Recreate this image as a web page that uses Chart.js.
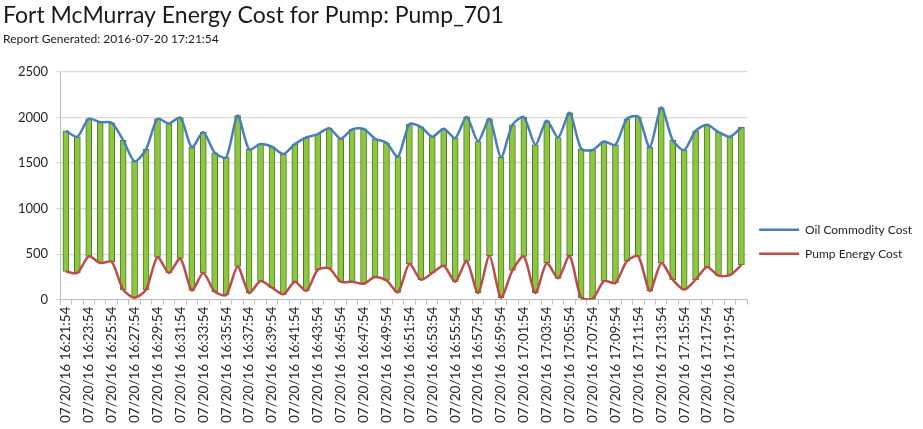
<!DOCTYPE html>
<html>
<head>
<meta charset="utf-8">
<script src="https://cdn.jsdelivr.net/npm/chart.js@4.4.1/dist/chart.umd.min.js"></script>
<style>
html,body{margin:0;padding:0;background:#fff;}
#wrap{width:923px;height:429px;position:relative;}
</style>
</head>
<body>
<div id="wrap"><canvas id="c" width="923" height="429"></canvas></div>
<script>
const categories = [
"07/20/16 16:21:54","07/20/16 16:22:54","07/20/16 16:23:54","07/20/16 16:24:54","07/20/16 16:25:54",
"07/20/16 16:26:54","07/20/16 16:27:54","07/20/16 16:28:54","07/20/16 16:29:54","07/20/16 16:30:54",
"07/20/16 16:31:54","07/20/16 16:32:54","07/20/16 16:33:54","07/20/16 16:34:54","07/20/16 16:35:54",
"07/20/16 16:36:54","07/20/16 16:37:54","07/20/16 16:38:54","07/20/16 16:39:54","07/20/16 16:40:54",
"07/20/16 16:41:54","07/20/16 16:42:54","07/20/16 16:43:54","07/20/16 16:44:54","07/20/16 16:45:54",
"07/20/16 16:46:54","07/20/16 16:47:54","07/20/16 16:48:54","07/20/16 16:49:54","07/20/16 16:50:54",
"07/20/16 16:51:54","07/20/16 16:52:54","07/20/16 16:53:54","07/20/16 16:54:54","07/20/16 16:55:54",
"07/20/16 16:56:54","07/20/16 16:57:54","07/20/16 16:58:54","07/20/16 16:59:54","07/20/16 17:00:54",
"07/20/16 17:01:54","07/20/16 17:02:54","07/20/16 17:03:54","07/20/16 17:04:54","07/20/16 17:05:54",
"07/20/16 17:06:54","07/20/16 17:07:54","07/20/16 17:08:54","07/20/16 17:09:54","07/20/16 17:10:54",
"07/20/16 17:11:54","07/20/16 17:12:54","07/20/16 17:13:54","07/20/16 17:14:54","07/20/16 17:15:54",
"07/20/16 17:16:54","07/20/16 17:17:54","07/20/16 17:18:54","07/20/16 17:19:54","07/20/16 17:20:54"
];
const oilCommodityCost = [
1854,1789,1986,1949,1942,1752,1518,1650,1986,1934,
2000,1672,1840,1613,1562,2022,1650,1708,1679,1599,
1708,1781,1818,1883,1767,1869,1876,1767,1723,1570,
1927,1898,1789,1876,1774,2008,1737,1986,1562,1920,
2005,1701,1964,1781,2051,1657,1643,1737,1701,1986,
2008,1672,2110,1752,1643,1854,1920,1840,1789,1891
];
const pumpEnergyCost = [
310,292,475,402,416,110,22,110,467,292,
453,102,292,88,51,365,73,204,131,58,
197,95,328,343,197,197,175,248,212,80,
394,219,292,372,197,423,73,482,22,321,
475,73,402,234,482,22,7,204,183,423,
475,95,402,219,110,219,358,263,270,380
];
const yTicks = [0,500,1000,1500,2000,2500];
const titleText = "Fort McMurray Energy Cost for Pump: Pump_701";
const subtitleText = "Report Generated: 2016-07-20 17:21:54";
const seriesNames = ["Oil Commodity Cost","Pump Energy Cost"];

const FONT = "Lato, 'Open Sans', sans-serif";
const barData = categories.map((c,i)=>[pumpEnergyCost[i], oilCommodityCost[i]]);

new Chart(document.getElementById('c'), {
  data: {
    labels: categories,
    datasets: [
      {type:'line', label: seriesNames[0], data: oilCommodityCost, borderColor:'#4a7ebb', backgroundColor:'#4a7ebb',
       borderWidth:2.5, pointRadius:0, tension:0.25, order:1},
      {type:'line', label: seriesNames[1], data: pumpEnergyCost, borderColor:'#be4b48', backgroundColor:'#be4b48',
       borderWidth:2.5, pointRadius:0, tension:0.25, order:1},
      {type:'bar', label:'updown', data: barData, backgroundColor:'#8dc63f', borderColor:'#4e7a2a',
       borderWidth:1, barThickness:6, borderSkipped:false, order:2}
    ]
  },
  options: {
    responsive:false,
    animation:false,
    devicePixelRatio:1,
    layout:{padding:{left:3,right:1,top:0,bottom:4}},
    plugins:{
      title:{display:true, text:titleText, align:'start', color:'#1a1a1a',
             font:{family:FONT, size:23, weight:'normal'}, padding:{top:2,bottom:2}},
      subtitle:{display:true, text:subtitleText, align:'start', color:'#1a1a1a',
             font:{family:FONT, size:12, weight:'normal'}, padding:{top:0,bottom:26}},
      legend:{position:'right', align:'center',
        title:{display:true, text:'', padding:22},
        labels:{filter:(it)=>it.text!=='updown', usePointStyle:true, pointStyle:'line', pointStyleWidth:40,
                color:'#262626', font:{family:FONT, size:12}, padding:12}},
      tooltip:{enabled:false}
    },
    scales:{
      x:{offset:true,
         grid:{display:true, drawOnChartArea:false, drawTicks:true, tickLength:5, color:'#bfbfbf', offset:true},
         border:{color:'#bfbfbf'},
         ticks:{autoSkip:false, maxRotation:90, minRotation:90, color:'#262626', padding:2,
                font:{family:FONT, size:13.5},
                callback:function(v,i){ return i%2===0 ? categories[i] : ''; }}},
      y:{min:0, max:2500,
         afterBuildTicks:(s)=>{ s.ticks = yTicks.map(v=>({value:v})); },
         afterFit:(s)=>{ s.width += 7; },
         grid:{color:'#d9d9d9', tickLength:4, lineWidth:1.2},
         border:{color:'#bfbfbf'},
         ticks:{color:'#262626', padding:8, font:{family:FONT, size:13},
                callback:(v)=>String(v)}}
    }
  }
});
</script>
</body>
</html>
